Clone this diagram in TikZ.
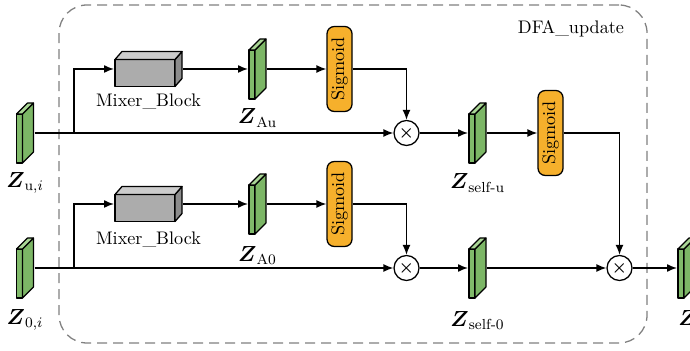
\documentclass[tikz,border=0pt]{standalone}
\usepackage{amssymb}
\usepackage{amsmath}
\usepackage{tikz}
\usetikzlibrary{shapes,arrows,arrows.meta}
\usetikzlibrary{positioning}
\definecolor{slabfront}{RGB}{128,186,106}
\definecolor{slabside}{RGB}{124,182,102}
\definecolor{slabtop}{RGB}{170,214,150}
\definecolor{sigfill}{RGB}{246,176,44}
\definecolor{boxfront}{RGB}{172,172,172}
\definecolor{boxside}{RGB}{140,140,140}
\definecolor{boxtop}{RGB}{204,204,204}
\tikzstyle{fmap} = [inner sep=0pt, outer sep=0pt, minimum width=10.45pt, minimum height=34.1pt]
\tikzstyle{mixer} = [inner sep=0pt, outer sep=0pt, minimum width=37.95pt, minimum height=20.35pt]
\tikzstyle{face} = [line join=round, line width=0.6pt]
\tikzstyle{sig} = [draw, fill=sigfill, rounded corners=4pt, rotate=90, line width=0.7pt,
    minimum width=46.75pt, minimum height=13.75pt, inner sep=0pt]
\tikzstyle{mult} = [draw, circle, fill=white, line width=0.7pt, minimum size=13.75pt, inner sep=0pt]
\tikzstyle{frame} = [draw=gray, line width=0.7pt, dash pattern=on 5.5pt off 3.3pt,
    rounded corners=15.4pt, minimum width=323.4pt, minimum height=185.9pt]
\tikzstyle{flow} = [-{Latex[length=5.5pt,width=4.4pt]}, line width=0.8pt]
\tikzstyle{zlab} = [font=\large]

\begin{document}
\begin{tikzpicture}[x=0.55pt, y=0.55pt]
  \useasboundingbox (0,0) rectangle (690,350);
  \clip (0,0) rectangle (690,350);
  \node [frame] (dfa) at (353,176) {};
  \node (dfatxt) at (571,321) {DFA\_update};
  % upper branch
  \node [fmap] (zu) at (25,217) {};
  \node [zlab, below of=zu, node distance=27.5pt] (zulab) {$\boldsymbol{Z}_{\mathrm{u},i}$};
  \coordinate (b1) at (74,217);
  \node [mixer] (mix1) at (148.5,281) {};
  \node [below of=mix1, node distance=17.6pt] (mixlab1) {Mixer\_Block};
  \node [fmap] (za) at (257.5,281) {};
  \node [zlab, below of=za, node distance=27pt] (zalab) {$\boldsymbol{Z}_{\text{Au}}$};
  \node [sig] (sig1) at (339.5,281) {Sigmoid};
  \node [mult] (m1) at (406.5,217) {\small$\boldsymbol{\times}$};
  \node [fmap] (zsu) at (477.5,217) {};
  \node [zlab, below of=zsu, node distance=27.5pt] (zsulab) {$\boldsymbol{Z}_{\text{self-u}}$};
  \node [sig] (sig3) at (550.5,217) {Sigmoid};
  % lower branch
  \node [fmap] (z0) at (25,82) {};
  \node [zlab, below of=z0, node distance=28.6pt] (z0lab) {$\boldsymbol{Z}_{0,i}$};
  \coordinate (b2) at (74,82);
  \node [mixer] (mix2) at (148.5,146) {};
  \node [below of=mix2, node distance=19.25pt] (mixlab2) {Mixer\_Block};
  \node [fmap] (za0) at (257.5,146) {};
  \node [zlab, below of=za0, node distance=28.6pt] (za0lab) {$\boldsymbol{Z}_{\text{A0}}$};
  \node [sig] (sig2) at (339.5,146) {Sigmoid};
  \node [mult] (m2) at (406.5,82) {\small$\boldsymbol{\times}$};
  \node [fmap] (zs0) at (477.5,82) {};
  \node [zlab, below of=zs0, node distance=29.15pt] (zs0lab) {$\boldsymbol{Z}_{\text{self-0}}$};
  \node [mult] (m3) at (619.5,82) {\small$\boldsymbol{\times}$};
  \node [fmap] (out) at (686.5,82) {};
  \node [zlab, anchor=west] (outlab) at (672,29) {$\boldsymbol{Z}_{1,i}$};
  % 3d faces of the feature maps and mixer blocks
  \foreach \n in {zu,za,zsu,z0,za0,zs0,out} {
    \filldraw[face, fill=slabfront] ([shift={(1,1)}]\n.south west) rectangle ++(6,49);
    \filldraw[face, fill=slabside] ([shift={(7,1)}]\n.south west) -- ++(11,11) -- ++(0,49) -- ++(-11,-11) -- cycle;
    \filldraw[face, fill=slabtop] ([shift={(1,50)}]\n.south west) -- ++(11,11) -- ++(6,0) -- ++(-11,-11) -- cycle;
  }
  \foreach \n in {mix1,mix2} {
    \filldraw[face, line width=0.7pt, fill=boxfront] ([shift={(1,1)}]\n.south west) rectangle ++(60,27);
    \filldraw[face, line width=0.7pt, fill=boxside] ([shift={(61,1)}]\n.south west) -- ++(7,8) -- ++(0,27) -- ++(-7,-8) -- cycle;
    \filldraw[face, line width=0.7pt, fill=boxtop] ([shift={(1,28)}]\n.south west) -- ++(7,8) -- ++(60,0) -- ++(-7,-8) -- cycle;
  }
  % connections
  \draw [flow] (zu) -- (m1);
  \draw [flow] (b1) |- (mix1);
  \draw [flow] (mix1) -- (za);
  \draw [flow] (za) -- (sig1);
  \draw [flow] (sig1) -| (m1);
  \draw [flow] (m1) -- (zsu);
  \draw [flow] (zsu) -- (sig3);
  \draw [flow] (sig3) -| (m3);
  \draw [flow] (z0) -- (m2);
  \draw [flow] (b2) |- (mix2);
  \draw [flow] (mix2) -- (za0);
  \draw [flow] (za0) -- (sig2);
  \draw [flow] (sig2) -| (m2);
  \draw [flow] (m2) -- (zs0);
  \draw [flow] (zs0) -- (m3);
  \draw [flow] (m3) -- (out);
\end{tikzpicture}
\end{document}
